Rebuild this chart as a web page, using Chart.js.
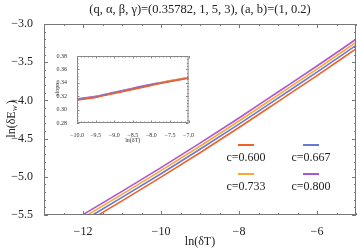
<!DOCTYPE html>
<html lang="en">
<head>
  <meta charset="UTF-8">
  <title>ln(dE) vs ln(dT)</title>
  <script src="https://cdn.jsdelivr.net/npm/chart.js@4.4.0/dist/chart.umd.min.js"></script>
  <style>
    body { margin: 0; background: #fff; }
    #wrap { position: relative; width: 357px; height: 250px; }
    #inset { position: absolute; left: 40px; top: 48px; }
  </style>
</head>
<body>
  <div id="wrap">
    <canvas id="mainChart" width="357" height="250"></canvas>
    <canvas id="inset" width="155" height="100"></canvas>
  </div>

  <script>
    // main plot data
    const lnT = [-13, -12, -11, -10, -9, -8, -7, -6, -5];
    const e600 = [-5.925, -5.62, -5.315, -5.005, -4.685, -4.355, -4.015, -3.675, -3.325];
    const e667 = [-5.88, -5.575, -5.27, -4.96, -4.64, -4.31, -3.97, -3.63, -3.28];
    const e733 = [-5.84, -5.535, -5.23, -4.92, -4.60, -4.27, -3.93, -3.59, -3.24];
    const e800 = [-5.80, -5.495, -5.19, -4.88, -4.56, -4.23, -3.89, -3.55, -3.20];

    // inset: slope
    const insetT = [-10, -9.5, -9, -8.5, -8, -7.5, -7];
    const s600 = [0.314, 0.318, 0.324, 0.330, 0.336, 0.342, 0.347];
    const s667 = [0.315, 0.319, 0.325, 0.331, 0.337, 0.342, 0.347];
    const s733 = [0.315, 0.319, 0.325, 0.331, 0.337, 0.343, 0.348];
    const s800 = [0.316, 0.320, 0.326, 0.332, 0.338, 0.343, 0.348];

    const labels = ['c=0.600', 'c=0.667', 'c=0.733', 'c=0.800'];
    const colors = ['#ee6128', '#6a78d8', '#f8a832', '#b054c8'];

    const xTicks = [-12, -10, -8, -6];
    const yTicks = [-5.5, -5.0, -4.5, -4.0, -3.5, -3.0];
    const insetXTicks = [-10, -9.5, -9, -8.5, -8, -7.5, -7];
    const insetYTicks = [0.28, 0.30, 0.32, 0.34, 0.36, 0.38];

    const serif = '"Liberation Serif", "DejaVu Serif", serif';
    const minus = v => String(v).replace('-', '\u2212');

    function pts(xs, ys) {
      return xs.map((x, i) => ({ x: x, y: ys[i] }));
    }

    // frame with inward ticks on all four sides
    function drawFrame(chart, o) {
      const { ctx, chartArea: a, scales: { x, y } } = chart;
      ctx.save();
      ctx.strokeStyle = o.color;
      ctx.lineWidth = 1;
      ctx.strokeRect(a.left + 0.5, a.top + 0.5, a.right - a.left - 1, a.bottom - a.top - 1);
      ctx.beginPath();
      for (let v = o.xStart; v <= x.max + 1e-9; v += o.xMinor) {
        const major = Math.abs(v / o.xMajor - Math.round(v / o.xMajor)) < 1e-6;
        const len = major ? o.major : o.minor;
        const px = Math.round(x.getPixelForValue(v)) + 0.5;
        ctx.moveTo(px, a.bottom); ctx.lineTo(px, a.bottom - len);
        ctx.moveTo(px, a.top); ctx.lineTo(px, a.top + len);
      }
      for (let v = y.min; v <= y.max + 1e-9; v += o.yMinor) {
        const major = Math.abs(v / o.yMajor - Math.round(v / o.yMajor)) < 1e-6;
        const len = major ? o.major : o.minor;
        const py = Math.round(y.getPixelForValue(v)) + 0.5;
        ctx.moveTo(a.left, py); ctx.lineTo(a.left + len, py);
        ctx.moveTo(a.right, py); ctx.lineTo(a.right - len, py);
      }
      ctx.stroke();
      ctx.restore();
    }

    const mainDecor = {
      id: 'mainDecor',
      afterDraw(chart) {
        const { ctx, chartArea: a } = chart;
        drawFrame(chart, { color: '#777', xStart: -13, xMinor: 0.5, xMajor: 2, yMinor: 0.1, yMajor: 0.5, major: 4, minor: 2 });

        ctx.save();
        ctx.fillStyle = '#222';
        ctx.textAlign = 'center';
        ctx.textBaseline = 'middle';
        ctx.font = '12.5px ' + serif;
        const cx = (a.left + a.right) / 2;
        ctx.fillText('(q, \u03B1, \u03B2, \u03B3)=(0.35782, 1, 5, 3), (a, b)=(1, 0.2)', cx, 10);

        ctx.font = '12px ' + serif;
        ctx.fillText('ln(\u03B4T)', cx, 242);

        // y title with subscript
        ctx.translate(12, (a.top + a.bottom) / 2);
        ctx.rotate(-Math.PI / 2);
        ctx.textAlign = 'left';
        const t1 = 'ln(\u03B4E';
        const w1 = ctx.measureText(t1).width;
        ctx.font = 'italic 9px ' + serif;
        const w2 = ctx.measureText('w').width;
        ctx.font = '12px ' + serif;
        const w3 = ctx.measureText(')').width;
        let sx = -(w1 + w2 + w3) / 2;
        ctx.fillText(t1, sx, 0);
        ctx.font = 'italic 9px ' + serif;
        ctx.fillText('w', sx + w1, 3);
        ctx.font = '12px ' + serif;
        ctx.fillText(')', sx + w1 + w2 + 1, 0);
        ctx.restore();

        // legend 2x2
        ctx.save();
        ctx.font = '12px ' + serif;
        ctx.textAlign = 'center';
        ctx.textBaseline = 'middle';
        ctx.lineWidth = 2;
        const cols = [246, 311];
        const rows = [145, 174];
        labels.forEach((lab, i) => {
          const cxl = cols[i % 2], ry = rows[Math.floor(i / 2)];
          ctx.strokeStyle = colors[i];
          ctx.beginPath();
          ctx.moveTo(cxl - 8, ry); ctx.lineTo(cxl + 8, ry);
          ctx.stroke();
          ctx.fillStyle = '#222';
          ctx.fillText(lab, cxl, ry + 13);
        });
        ctx.restore();
      }
    };

    const mainSeries = [e600, e667, e733, e800];

    new Chart(document.getElementById('mainChart'), {
      type: 'line',
      data: {
        datasets: mainSeries.map((s, i) => ({
          label: labels[i],
          data: pts(lnT, s),
          borderColor: colors[i],
          borderWidth: 1.6,
          pointRadius: 0,
          cubicInterpolationMode: 'monotone'
        }))
      },
      options: {
        responsive: false,
        animation: false,
        events: [],
        layout: { padding: { top: 24, right: 1, left: 0, bottom: 0 } },
        plugins: { legend: { display: false }, tooltip: { enabled: false } },
        scales: {
          x: {
            type: 'linear', min: -13, max: -5,
            grid: { display: false },
            border: { display: false },
            afterBuildTicks: s => { s.ticks = xTicks.map(v => ({ value: v })); },
            afterFit: s => { s.height = 35; },
            ticks: { padding: 2, color: '#222', font: { family: serif, size: 12 }, callback: v => minus(v) }
          },
          y: {
            type: 'linear', min: -5.5, max: -3.0,
            grid: { display: false },
            border: { display: false },
            afterBuildTicks: s => { s.ticks = yTicks.map(v => ({ value: v })); },
            afterFit: s => { s.width = 44; },
            ticks: { padding: 3, color: '#222', font: { family: serif, size: 12 }, callback: v => minus(v.toFixed(1)) }
          }
        }
      },
      plugins: [mainDecor]
    });

    const insetDecor = {
      id: 'insetDecor',
      beforeDatasetsDraw(chart) {
        const { ctx, chartArea: a } = chart;
        ctx.save();
        ctx.fillStyle = '#fff';
        ctx.fillRect(a.left, a.top, a.right - a.left, a.bottom - a.top);
        ctx.restore();
      },
      afterDraw(chart) {
        const { ctx, chartArea: a } = chart;
        drawFrame(chart, { color: '#888', xStart: -10, xMinor: 0.1, xMajor: 0.5, yMinor: 0.005, yMajor: 0.02, major: 2.5, minor: 1.5 });
        ctx.save();
        ctx.fillStyle = '#333';
        ctx.textAlign = 'center';
        ctx.textBaseline = 'middle';
        ctx.font = '6px ' + serif;
        ctx.fillText('ln(\u03B4T)', (a.left + a.right) / 2, 92);
        ctx.translate(17, (a.top + a.bottom) / 2);
        ctx.rotate(-Math.PI / 2);
        ctx.fillText('slope', 0, 0);
        ctx.restore();
      }
    };

    const insetSeries = [s600, s667, s733, s800];

    new Chart(document.getElementById('inset'), {
      type: 'line',
      data: {
        datasets: insetSeries.map((s, i) => ({
          label: labels[i],
          data: pts(insetT, s),
          borderColor: colors[i],
          borderWidth: 1.4,
          pointRadius: 0,
          cubicInterpolationMode: 'monotone'
        }))
      },
      options: {
        responsive: false,
        animation: false,
        events: [],
        layout: { padding: { top: 8, right: 6, left: 0, bottom: 0 } },
        plugins: { legend: { display: false }, tooltip: { enabled: false } },
        scales: {
          x: {
            type: 'linear', min: -10, max: -7,
            grid: { display: false },
            border: { display: false },
            afterBuildTicks: s => { s.ticks = insetXTicks.map(v => ({ value: v })); },
            afterFit: s => { s.height = 25; },
            ticks: { padding: 1, color: '#333', maxRotation: 0, autoSkip: false, font: { family: serif, size: 6 }, callback: v => minus(v.toFixed(1)) }
          },
          y: {
            type: 'linear', min: 0.28, max: 0.38,
            grid: { display: false },
            border: { display: false },
            afterBuildTicks: s => { s.ticks = insetYTicks.map(v => ({ value: v })); },
            afterFit: s => { s.width = 37; },
            ticks: { padding: 2, color: '#333', autoSkip: false, font: { family: serif, size: 6 }, callback: v => v.toFixed(2) }
          }
        }
      },
      plugins: [insetDecor]
    });
  </script>
</body>
</html>
